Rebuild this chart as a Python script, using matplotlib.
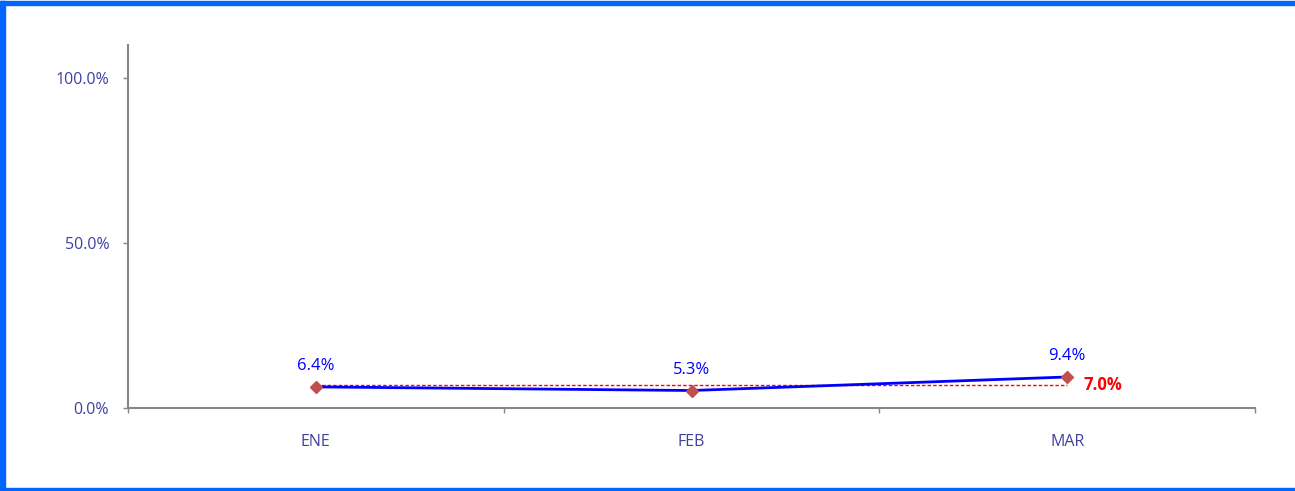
import matplotlib
matplotlib.use("Agg")
import matplotlib.pyplot as plt
from matplotlib.patches import Rectangle

categories = ["ENE", "FEB", "MAR"]
values = [6.4, 5.3, 9.4]
target = [7.0, 7.0, 7.0]
yticks = [0, 50, 100]

plt.rcParams['font.family'] = ['Open Sans', 'DejaVu Sans']

W, H = 1295, 491
fig = plt.figure(figsize=(W / 100, H / 100), dpi=100)
ax = fig.add_axes([128 / W, 1 - 408 / H, (1255 - 128) / W, (408 - 45) / H])

x = list(range(len(categories)))
ax.plot(x, target, color='#FF0000', lw=1.0, ls=(0, (2.5, 1.5)), zorder=2)
ax.plot(x, values, color='#0000FF', lw=2, zorder=3)
ax.plot(x, values, ls='none', marker='D', ms=6, color='#C0504D', zorder=4)

for xi, v in zip(x, values):
    ax.annotate(f"{v:.1f}%", (xi, v), xytext=(0, 9), textcoords='offset points',
                ha='center', va='bottom', color='#0000FF', fontsize=12)
ax.annotate(f"{target[-1]:.1f}%", (x[-1], target[-1]), xytext=(12, 0),
            textcoords='offset points', ha='left', va='center',
            color='#FF0000', fontsize=12, fontweight='bold')

ax.set_xlim(-0.5, len(categories) - 0.5)
ax.set_ylim(0, 110)
ax.set_yticks(yticks)
ax.set_yticklabels([f"{t:.1f}%" for t in yticks])
ax.set_xticks(x)
ax.set_xticklabels(categories)
ax.set_xticks([i - 0.5 for i in range(len(categories) + 1)], minor=True)

for s in ['top', 'right']:
    ax.spines[s].set_visible(False)
for s in ['left', 'bottom']:
    ax.spines[s].set_color('#868686')
    ax.spines[s].set_linewidth(1.5)

ax.tick_params(axis='x', which='major', length=0, pad=19, labelsize=11.5, labelcolor='#4040A0')
ax.tick_params(axis='x', which='minor', length=3.5, width=1, color='#868686', direction='out')
ax.tick_params(axis='y', length=3.5, width=1, color='#868686', pad=10, labelsize=11.5, labelcolor='#4040A0')

# blue frame
blue = '#0066FF'
fig.patches.append(Rectangle((0, 1 - 4.5 / H), 1, 3.5 / H, transform=fig.transFigure, color=blue, zorder=10))
fig.patches.append(Rectangle((0, 0), 4.5 / W, 1 - 1 / H, transform=fig.transFigure, color=blue, zorder=10))
fig.patches.append(Rectangle((0, 0), 1, 3.5 / H, transform=fig.transFigure, color=blue, zorder=10))

fig.savefig("out.png", dpi=100)
